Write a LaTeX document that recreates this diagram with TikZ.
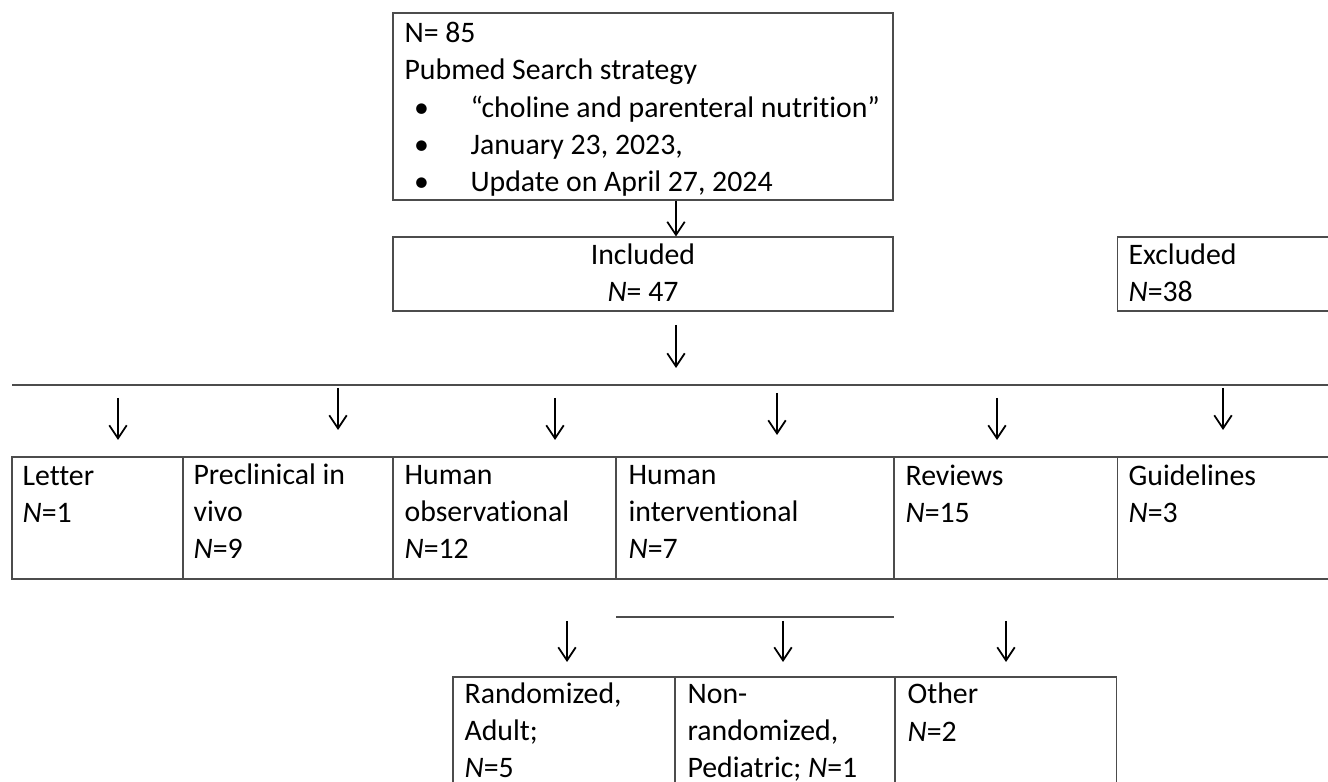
\documentclass[tikz,border=0pt]{standalone}
\usepackage{fontspec}
\setmainfont[Ligatures=NoCommon]{Carlito}
\usetikzlibrary{arrows.meta}
\newcommand{\pxu}{0.3425pt}
\begin{document}
\begin{tikzpicture}
[x=0.3425pt,y=-0.3425pt,
  boxdecorate/.style={shape=rectangle,draw=black!70,line width=0.35pt,inner sep=0pt},%
  textdecorate/.style={inner sep=0pt,anchor=base west,align=left,font=\fontsize{10.2pt}{12.8pt}\selectfont},%
  arrowdecorate/.style={-{Straight Barb[length=4.5pt,width=6pt]},line width=0.6pt},%
  linedecorate/.style={draw=black!70,line width=0.45pt}]
\useasboundingbox (0,0) rectangle (1328,782);
\clip (0,0) rectangle (1328,782);
% boxes
\node (search) at (643,106.5) [boxdecorate,minimum width=500*\pxu,minimum height=187*\pxu] {};
\node (included) at (643,274) [boxdecorate,minimum width=500*\pxu,minimum height=74*\pxu] {};
\node (excluded) at (1267,274) [boxdecorate,minimum width=300*\pxu,minimum height=74*\pxu] {};
\node (letter) at (97.5,518) [boxdecorate,minimum width=171*\pxu,minimum height=122*\pxu] {};
\node (preclin) at (288,518) [boxdecorate,minimum width=210*\pxu,minimum height=122*\pxu] {};
\node (humobs) at (504.5,518) [boxdecorate,minimum width=223*\pxu,minimum height=122*\pxu] {};
\node (humint) at (755,518) [boxdecorate,minimum width=278*\pxu,minimum height=122*\pxu] {};
\node (reviews) at (1005.5,518) [boxdecorate,minimum width=223*\pxu,minimum height=122*\pxu] {};
\node (guide) at (1258.5,518) [boxdecorate,minimum width=283*\pxu,minimum height=122*\pxu] {};
\node (random) at (564,748.5) [boxdecorate,minimum width=222*\pxu,minimum height=143*\pxu] {};
\node (nonrand) at (785,748.5) [boxdecorate,minimum width=220*\pxu,minimum height=143*\pxu] {};
\node (other) at (1005.5,748.5) [boxdecorate,minimum width=221*\pxu,minimum height=143*\pxu] {};
% texts (placed by the baseline of their last line)
\node (searchtext) at (404,192) [textdecorate] {N= 85\\Pubmed Search strategy\\
  \makebox[22.6pt][l]{\hspace{3.3pt}\textbullet}“choline and parenteral nutrition”\\
  \makebox[22.6pt][l]{\hspace{3.3pt}\textbullet}January 23, 2023,\\
  \makebox[22.6pt][l]{\hspace{3.3pt}\textbullet}Update on April 27, 2024};
\node (includedtext) at (643,302) [textdecorate,anchor=base,align=center] {Included\\\textit{N}= 47};
\node (excludedtext) at (1128,302) [textdecorate] {Excluded\\\textit{N}=38};
\node (lettertext) at (22,523) [textdecorate] {Letter\\\textit{N}=1};
\node (preclintext) at (193,559) [textdecorate] {Preclinical in\\vivo\\\textit{N}=9};
\node (humobstext) at (404,559) [textdecorate] {Human\\observational\\\textit{N}=12};
\node (huminttext) at (628,559) [textdecorate] {Human\\interventional\\\textit{N}=7};
\node (reviewstext) at (905,523) [textdecorate] {Reviews\\\textit{N}=15};
\node (guidetext) at (1128,523) [textdecorate] {Guidelines\\\textit{N}=3};
\node (randomtext) at (464,778) [textdecorate] {Randomized,\\Adult;\\\textit{N}=5};
\node (nonrandtext) at (687,778) [textdecorate] {Non-\\randomized,\\Pediatric; \textit{N}=1};
\node (othertext) at (907,741) [textdecorate] {Other\\\textit{N}=2};
% split lines
\coordinate (splitl) at (12,385);
\coordinate (splitr) at (1400,385);
\coordinate (subl) at (616,617);
\coordinate (subr) at (894,617);
\draw[linedecorate] (splitl) -- (splitr);
\draw[linedecorate] (subl) -- (subr);
% arrows
\coordinate (mid) at (676,0);
\draw[arrowdecorate] (search.south -| mid) -- (included.north -| mid);
\coordinate (inctop) at (676,325);
\coordinate (incbot) at (676,368);
\draw[arrowdecorate] (inctop) -- (incbot);
\foreach \n/\x/\ys in {1/118/398,2/338/388,3/555/398,4/777/393,5/997/398,6/1223/388}
  {\coordinate (s\n) at (\x,\ys);
   \coordinate (e\n) at (\x,\ys+42);
   \draw[arrowdecorate] (s\n) -- (e\n);}
\foreach \n/\x in {1/567,2/783,3/1006}
  {\coordinate (t\n) at (\x,621);
   \coordinate (b\n) at (\x,662);
   \draw[arrowdecorate] (t\n) -- (b\n);}
\end{tikzpicture}
\end{document}
